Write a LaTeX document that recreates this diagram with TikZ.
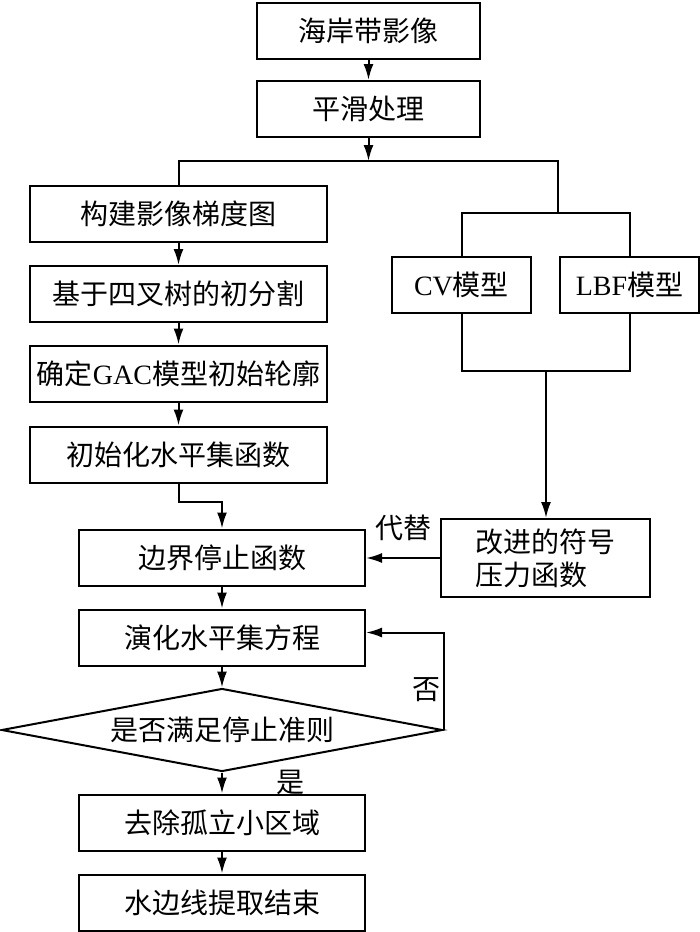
\documentclass[tikz,border=0pt]{standalone}
\usepackage{fontspec}
\setmainfont{Liberation Serif}
\newfontfamily\cjk{Noto Sans CJK SC}
\usetikzlibrary{shapes.geometric,arrows.meta}

\begin{document}
\begin{tikzpicture}[>={Latex[length=8pt,width=5pt]}, x=0.5pt, y=-0.5pt, line width=1pt,
	box/.style={draw, rectangle, minimum height=28pt, inner sep=0pt, font=\fontsize{14pt}{16.5pt}\cjk},
	test/.style={draw, diamond, aspect=5.3, minimum width=220.5pt, minimum height=41.5pt, inner sep=0pt, font=\fontsize{14pt}{16.5pt}\cjk},
	lbl/.style={font=\fontsize{14pt}{16.5pt}\cjk, inner sep=0pt}]
			%%%	Help Lines
%			\draw [thin, help lines] (0,0) grid[step=50] (700,932);
			\useasboundingbox (0,0) rectangle (700,932);
			%%%	Blocchi
			\node[box, minimum width=111.5pt] (img) at (368.5,31) {海岸带影像};
			\node[box, minimum width=111.5pt] (smooth) at (368.5,109) {平滑处理};
			\node[box, minimum width=148.5pt] (grad) at (178.5,214) {构建影像梯度图};
			\node[box, minimum width=148.5pt] (quad) at (178.5,294) {基于四叉树的初分割};
			\node[box, minimum width=148.5pt] (gac) at (178.5,373.5) {确定\textrm{GAC}模型初始轮廓};
			\node[box, minimum width=148.5pt] (init) at (178.5,454.5) {初始化水平集函数};
			\node[box, minimum width=143pt] (stop) at (222,557.5) {边界停止函数};
			\node[box, minimum width=143pt] (evol) at (222,637.5) {演化水平集方程};
			\node[test] (check) at (222,730) {是否满足停止准则};
			\node[box, minimum width=143pt] (clean) at (222,822.5) {去除孤立小区域};
			\node[box, minimum width=143pt] (fin) at (222,902.5) {水边线提取结束};
			\node[box, minimum width=69.5pt] (cv) at (461.5,284.5) {\textrm{CV}模型};
			\node[box, minimum width=69.5pt] (lbf) at (629.5,284.5) {\textrm{LBF}模型};
			\node[box, minimum width=104.5pt, minimum height=39pt, align=left] (sp) at (545.5,558) {改进的符号\\压力函数};
			%%%	Collegamenti
			\coordinate (split) at (368.5,161);
			\coordinate (rsplit) at (558,213);
			\coordinate (merge) at (546,371);
			\draw[->] (img) -- (smooth);
			\draw[->] (smooth) -- (split);
			\draw (grad.north) |- (split) -| (rsplit);
			\draw (cv.north) |- (rsplit) -| (lbf.north);
			\draw[->] (grad) -- (quad);
			\draw[->] (quad) -- (gac);
			\draw[->] (gac) -- (init);
			\draw[->] (init.south) -- ++(0,18) -| (stop.north);
			\draw (cv.south) |- (merge) -| (lbf.south);
			\draw[->] (merge) -- (merge |- sp.north);
			\draw[->] (sp.west) -- (stop.east |- sp.west);
			\node[lbl] (subst) at (403,528) {代替};
			\draw[->] (stop) -- (evol);
			\draw[->] (evol) -- (check);
			\draw[->] (check.east) |- ([yshift=2.5pt]evol.east);
			\node[lbl] (no) at (426,690) {否};
			\draw[->] (check) -- (clean);
			\node[lbl] (yes) at (290,782) {是};
			\draw[->] (clean) -- (fin);
		\end{tikzpicture}
\end{document}
